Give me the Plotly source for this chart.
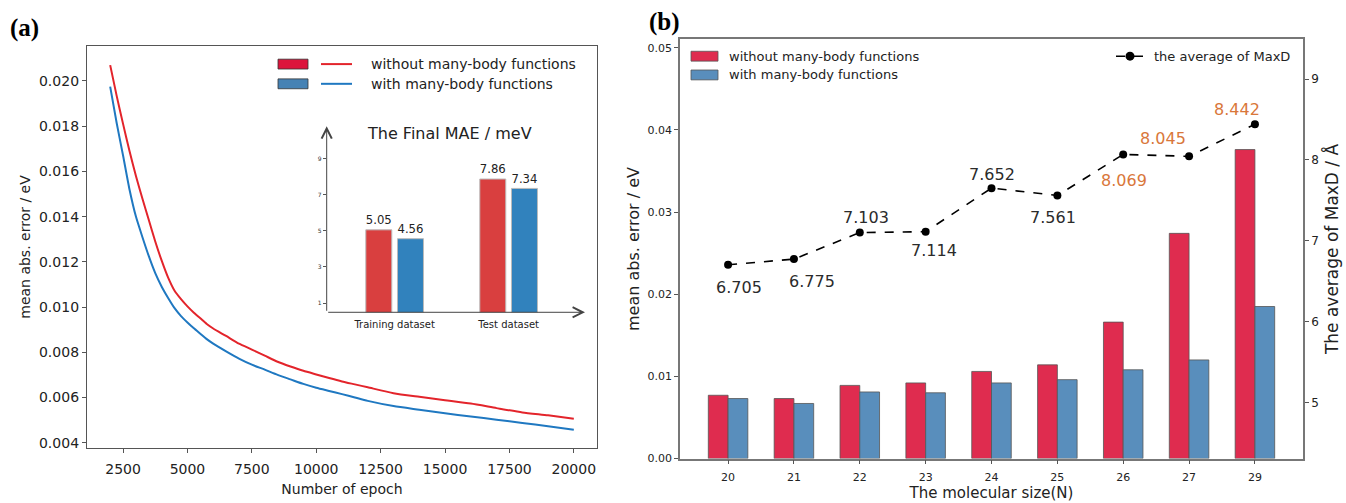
import plotly.graph_objects as go

# ---------------- data ----------------
epochs = [2000, 2250, 2500, 2750, 3000, 3250, 3500, 3750, 4000, 4250, 4500, 4750, 5000,
          5250, 5500, 5750, 6000, 6500, 7000, 7500, 8000, 8500, 9000, 9500, 10000, 10500,
          11000, 11500, 12000, 13000, 14000, 15000, 16000, 17000, 18000, 19000, 20000]
mae_without = [0.0207, 0.01935, 0.0181, 0.0169, 0.0158, 0.0148, 0.01385, 0.0129, 0.01205,
               0.0113, 0.01072, 0.01035, 0.01003, 0.00975, 0.0095, 0.00925, 0.00905,
               0.00872, 0.00838, 0.00812, 0.00785, 0.00758, 0.00737, 0.00718, 0.00702,
               0.00686, 0.00671, 0.00658, 0.00645, 0.00619, 0.00603, 0.00588, 0.00573,
               0.00553, 0.00534, 0.00521, 0.00506]
mae_with = [0.01975, 0.01815, 0.0167, 0.0152, 0.0140, 0.0131, 0.01225, 0.0115, 0.0109,
            0.0104, 0.00995, 0.0096, 0.00932, 0.00906, 0.00882, 0.00858, 0.00838,
            0.00804, 0.00772, 0.00745, 0.00723, 0.007, 0.0068, 0.0066, 0.00643, 0.00629,
            0.00615, 0.006, 0.00585, 0.00562, 0.00546, 0.0053, 0.00516, 0.00502, 0.00487,
            0.00473, 0.00457]

inset_sets = ["Training dataset", "Test dataset"]
final_without = [5.05, 7.86]
final_with = [4.56, 7.34]

mol_sizes = ["20", "21", "22", "23", "24", "25", "26", "27", "29"]
bar_without = [0.0077, 0.0073, 0.0089, 0.0092, 0.0106, 0.0114, 0.0166, 0.0274, 0.0376]
bar_with = [0.0073, 0.0067, 0.0081, 0.0080, 0.0092, 0.0096, 0.0108, 0.0120, 0.0185]
maxd_avg = [6.705, 6.775, 7.103, 7.114, 7.652, 7.561, 8.069, 8.045, 8.442]

# label placement (pixel shifts) and colours for the MaxD labels
label_shift = [(11, -23), (18, -22), (6, 15), (8, -19), (0, 14), (-4, -22), (1, -26), (-26, 18), (-18, 15)]
label_color = ["#2b2b2b"] * 6 + ["#d9773a"] * 3

W, H = 1346, 503
FONT = "DejaVu Sans"
AX = "#555555"


def px(x):
    return x / W


def py(y):
    return 1 - y / H


fig = go.Figure()

# ---- panel (a) curves ----
fig.add_trace(go.Scatter(x=epochs, y=mae_without, mode="lines",
                         line=dict(color="#e3242b", width=2, shape="spline", smoothing=0.6),
                         xaxis="x", yaxis="y", showlegend=False, name="without many-body functions"))
fig.add_trace(go.Scatter(x=epochs, y=mae_with, mode="lines",
                         line=dict(color="#1f78c1", width=2, shape="spline", smoothing=0.6),
                         xaxis="x", yaxis="y", showlegend=False, name="with many-body functions"))

# ---- inset bars ----
fig.add_trace(go.Bar(x=inset_sets, y=final_without, width=0.228, offset=-0.253,
                     marker=dict(color="#d93f3f", line=dict(color="#bbbbbb", width=1)),
                     text=[f"{v:.2f}" for v in final_without], textposition="outside",
                     textfont=dict(size=12, color="#222", family=FONT), cliponaxis=False,
                     xaxis="x3", yaxis="y4", showlegend=False))
fig.add_trace(go.Bar(x=inset_sets, y=final_with, width=0.228, offset=0.025,
                     marker=dict(color="#3182bd", line=dict(color="#bbbbbb", width=1)),
                     text=[f"{v:.2f}" for v in final_with], textposition="outside",
                     textfont=dict(size=12, color="#222", family=FONT), cliponaxis=False,
                     xaxis="x3", yaxis="y4", showlegend=False))

# ---- panel (b) bars ----
fig.add_trace(go.Bar(x=mol_sizes, y=bar_without, width=0.3, offset=-0.3,
                     marker=dict(color="#df2c4f", line=dict(color="#555555", width=0.8)),
                     xaxis="x2", yaxis="y2", showlegend=False))
fig.add_trace(go.Bar(x=mol_sizes, y=bar_with, width=0.3, offset=0.0,
                     marker=dict(color="#598ebc", line=dict(color="#555555", width=0.8)),
                     xaxis="x2", yaxis="y2", showlegend=False))
fig.add_trace(go.Scatter(x=mol_sizes, y=maxd_avg, mode="lines+markers",
                         line=dict(color="black", width=1.6, dash="dash"),
                         marker=dict(color="black", size=8),
                         xaxis="x2", yaxis="y3", showlegend=False))

annotations = []
for i, v in enumerate(maxd_avg):
    annotations.append(dict(x=i, y=v, xref="x2", yref="y3", text=f"{v:.3f}", showarrow=False,
                            xanchor="center", yanchor="middle",
                            xshift=label_shift[i][0], yshift=label_shift[i][1],
                            font=dict(size=16, color=label_color[i], family=FONT)))

# inset arrows (axes)
annotations.append(dict(x=0, y=1.0, ax=0, ay=0, xref="x3 domain", yref="y4 domain",
                        axref="x3 domain", ayref="y4 domain", text="", showarrow=True,
                        arrowhead=5, arrowsize=2, arrowwidth=1, arrowcolor="#444"))
annotations.append(dict(x=1.0, y=0, ax=0, ay=0, xref="x3 domain", yref="y4 domain",
                        axref="x3 domain", ayref="y4 domain", text="", showarrow=True,
                        arrowhead=5, arrowsize=2, arrowwidth=1, arrowcolor="#444"))
annotations.append(dict(x=px(449), y=py(135), xref="paper", yref="paper", text="The Final MAE / meV",
                        xanchor="center", yanchor="middle",
                        showarrow=False, font=dict(size=16, color="#222", family=FONT)))

# panel labels
annotations.append(dict(x=px(8), y=py(28), xref="paper", yref="paper", text="<b>(a)</b>",
                        xanchor="left", yanchor="middle",
                        showarrow=False, font=dict(size=25, color="black", family="Liberation Serif")))
annotations.append(dict(x=px(647), y=py(22), xref="paper", yref="paper", text="<b>(b)</b>",
                        xanchor="left", yanchor="middle",
                        showarrow=False, font=dict(size=25, color="black", family="Liberation Serif")))

shapes = []
# legend (a)
for yc, pc, lc, txt in [(65, "#dc143c", "#e3242b", "without many-body functions"),
                         (85, "#4682b4", "#1f78c1", "with many-body functions")]:
    shapes.append(dict(type="rect", xref="paper", yref="paper", x0=px(278), x1=px(308),
                       y0=py(yc + 5), y1=py(yc - 5), fillcolor=pc, line=dict(color="#333", width=0.8)))
    shapes.append(dict(type="line", xref="paper", yref="paper", x0=px(321), x1=px(352),
                       y0=py(yc), y1=py(yc), line=dict(color=lc, width=2)))
    annotations.append(dict(x=px(369), y=py(yc), xref="paper", yref="paper", text=txt,
                            xanchor="left", yanchor="middle",
                            showarrow=False, font=dict(size=14, color="#222", family=FONT)))
# legend (b) bars
for yc, pc, txt in [(57, "#df2c4f", "without many-body functions"),
                    (76, "#598ebc", "with many-body functions")]:
    shapes.append(dict(type="rect", xref="paper", yref="paper", x0=px(691), x1=px(718),
                       y0=py(yc + 5), y1=py(yc - 5), fillcolor=pc, line=dict(color="#555", width=0.8)))
    annotations.append(dict(x=px(727), y=py(yc), xref="paper", yref="paper", text=txt,
                            xanchor="left", yanchor="middle",
                            showarrow=False, font=dict(size=13, color="#222", family=FONT)))
# legend (b) line
shapes.append(dict(type="line", xref="paper", yref="paper", x0=px(1116), x1=px(1143),
                   y0=py(57), y1=py(57), line=dict(color="black", width=1.6, dash="dash")))
shapes.append(dict(type="circle", xref="paper", yref="paper", x0=px(1125.5), x1=px(1134.5),
                   y0=py(61.5), y1=py(52.5), fillcolor="black", line=dict(color="black", width=0)))
annotations.append(dict(x=px(1152), y=py(57), xref="paper", yref="paper", text="the average of MaxD",
                        xanchor="left", yanchor="middle",
                        showarrow=False, font=dict(size=13, color="#222", family=FONT)))

tickfont_a = dict(size=14, color="#222", family=FONT)
tickfont_b = dict(size=11, color="#222", family=FONT)

fig.update_layout(
    width=W, height=H, margin=dict(l=0, r=0, t=0, b=0),
    paper_bgcolor="white", plot_bgcolor="white",
    font=dict(family=FONT, color="#222"),
    barmode="overlay", showlegend=False,
    annotations=annotations, shapes=shapes,
    xaxis=dict(domain=[px(87), px(597)], anchor="y", range=[1100, 20900],
               tickvals=[2500, 5000, 7500, 10000, 12500, 15000, 17500, 20000], tickformat="d",
               tickfont=tickfont_a, ticks="outside", ticklen=4, tickcolor=AX, ticklabelstandoff=4,
               showline=True, linecolor=AX, linewidth=1.3, mirror=True, showgrid=False, zeroline=False,
               title=dict(text="Number of epoch", font=dict(size=14, color="#222"), standoff=8)),
    yaxis=dict(domain=[py(454), py(47)], anchor="x", range=[0.00378, 0.02153],
               tickvals=[0.004, 0.006, 0.008, 0.010, 0.012, 0.014, 0.016, 0.018, 0.020],
               tickformat=".3f", tickfont=tickfont_a, ticks="outside", ticklen=4, tickcolor=AX,
               showline=True, linecolor=AX, linewidth=1.3, mirror=True, showgrid=False, zeroline=False,
               title=dict(text="mean abs. error / eV", font=dict(size=14, color="#222"), standoff=5)),
    xaxis2=dict(domain=[px(680), px(1303)], anchor="y2", type="category", range=[-0.73, 8.73],
                tickfont=tickfont_b, ticks="outside", ticklen=4, tickcolor=AX, ticklabelstandoff=4,
                showline=True, linecolor="#777", linewidth=1.5, mirror=True, showgrid=False,
                title=dict(text="The molecular size(N)", font=dict(size=15, color="#222"), standoff=4)),
    yaxis2=dict(domain=[py(465), py(40)], anchor="x2", range=[0, 0.051],
                tickvals=[0, 0.01, 0.02, 0.03, 0.04, 0.05], tickformat=".2f",
                tickfont=tickfont_b, ticks="outside", ticklen=4, tickcolor=AX,
                showline=True, linecolor="#777", linewidth=1.5, showgrid=False, zeroline=False,
                title=dict(text="mean abs. error / eV", font=dict(size=16, color="#222"), standoff=4)),
    yaxis3=dict(overlaying="y2", anchor="x2", side="right", range=[4.31, 9.49],
                tickvals=[5, 6, 7, 8, 9], tickfont=dict(size=12, color="#222", family=FONT),
                ticks="outside", ticklen=4, tickcolor=AX,
                showline=True, linecolor="#777", linewidth=1.5, showgrid=False, zeroline=False,
                title=dict(text="The average of MaxD / Å", font=dict(size=17, color="#222"), standoff=8)),
    xaxis3=dict(domain=[px(326.7), px(585)], anchor="y4", type="category", range=[-0.596, 1.67],
                tickfont=dict(size=10, color="#222", family=FONT), ticks="", showline=False,
                ticklabelstandoff=5, showgrid=False, zeroline=False),
    yaxis4=dict(domain=[py(316.7), py(128)], anchor="x3", range=[0.49, 10.78],
                tickvals=[1, 3, 5, 7, 9], tickfont=dict(size=6, color="#333", family=FONT),
                ticks="outside", ticklen=3, tickcolor="#555", showline=False,
                showgrid=False, zeroline=False),
)

fig.write_html("out.html")
